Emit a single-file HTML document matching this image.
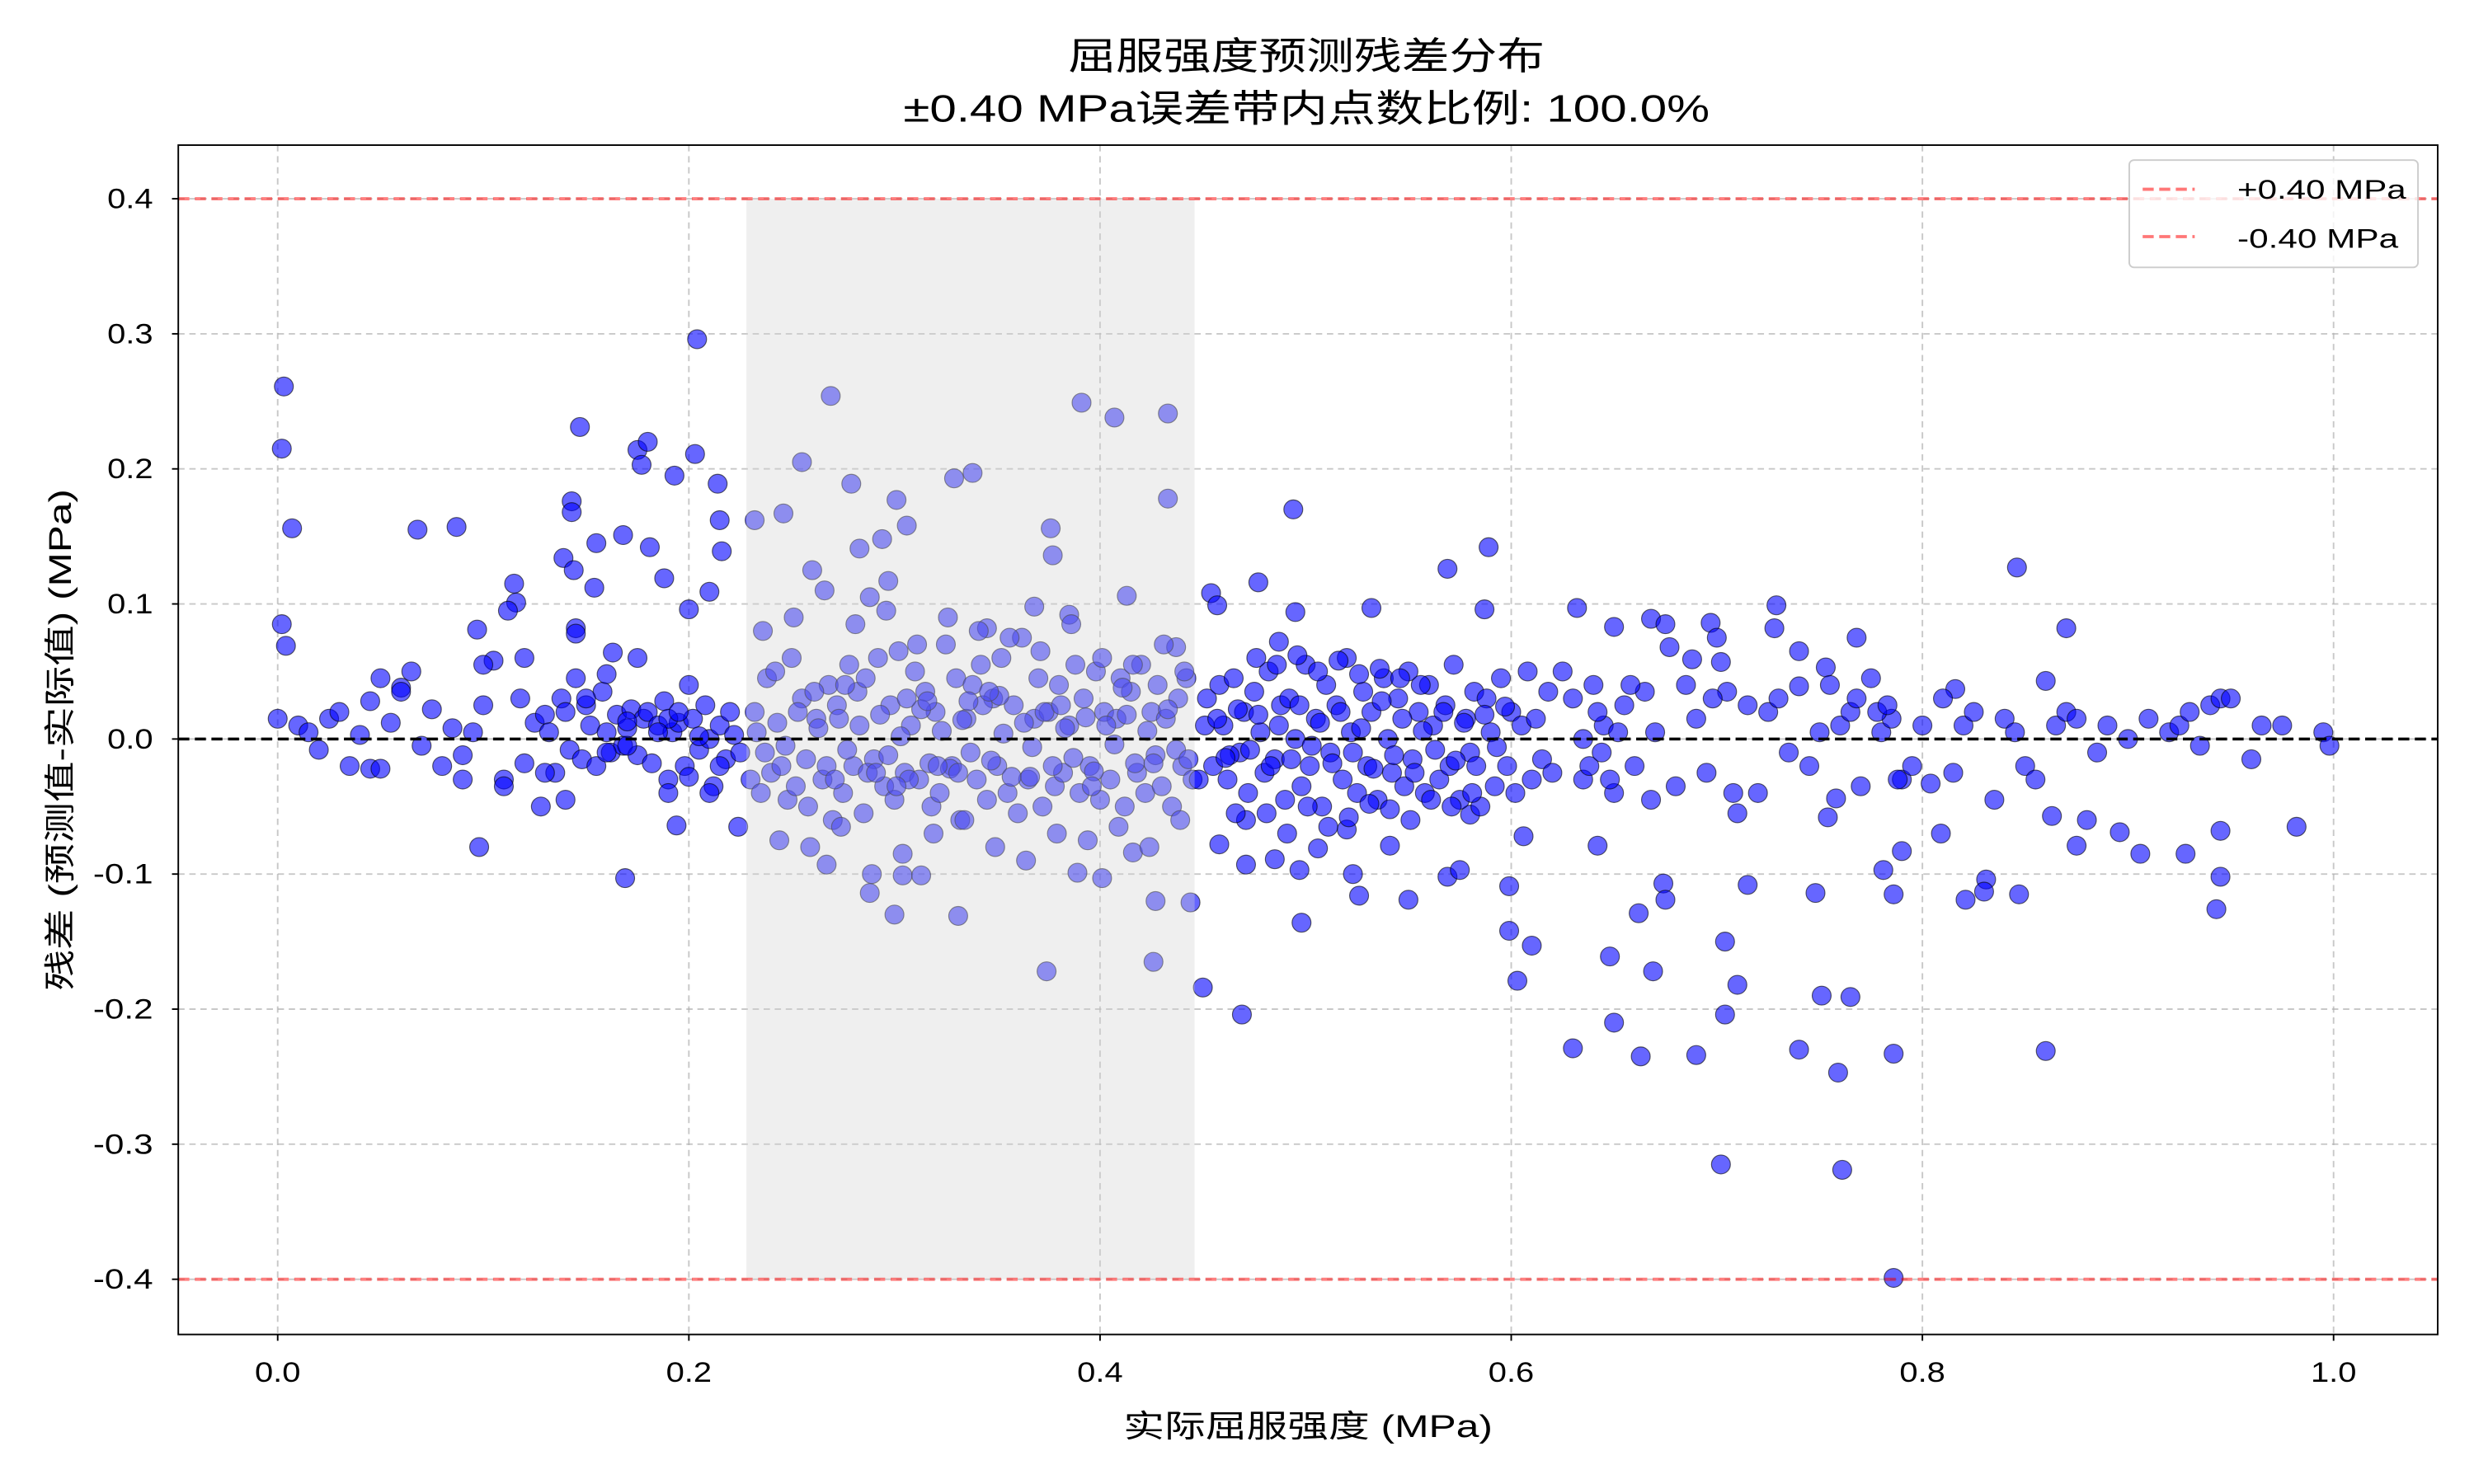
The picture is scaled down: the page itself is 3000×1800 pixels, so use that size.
<!DOCTYPE html>
<html><head><meta charset="utf-8"><style>
html,body{margin:0;padding:0;background:#fff;}
svg{display:block;}
text{font-family:"Liberation Sans","Noto Sans CJK SC",sans-serif;fill:#000;}
</style></head><body>
<svg id="chart" width="3000" height="1800" viewBox="0 0 1568 940.8" preserveAspectRatio="none" xmlns="http://www.w3.org/2000/svg">
<rect x="0" y="0" width="1568" height="941" fill="#fff"/>
<text x="828" y="44" font-size="24" text-anchor="middle" textLength="302" lengthAdjust="spacingAndGlyphs">屈服强度预测残差分布</text>
<text x="828" y="77" font-size="24" text-anchor="middle" textLength="511" lengthAdjust="spacingAndGlyphs">±0.40 MPa误差带内点数比例: 100.0%</text>
<g id="grid"></g>
<g id="marks"></g>
<g id="over"></g>
<rect x="113" y="92" width="1432" height="754" fill="none" stroke="#000" stroke-width="1"/>
<g id="ticks"></g>
<text x="829" y="911" font-size="20" text-anchor="middle" textLength="234" lengthAdjust="spacingAndGlyphs">实际屈服强度 (MPa)</text>
<text transform="translate(45,469) rotate(-90)" font-size="20" text-anchor="middle" textLength="318" lengthAdjust="spacingAndGlyphs">残差 (预测值-实际值) (MPa)</text>
<g>
<rect x="1349.5" y="101.5" width="183" height="68" rx="3" fill="#fff" fill-opacity="0.8" stroke="#ccc" stroke-width="1"/>
<line x1="1358" y1="120" x2="1391" y2="120" stroke="#ff7777" stroke-width="2" stroke-dasharray="7,3.5"/>
<text x="1418" y="126" font-size="17" textLength="107" lengthAdjust="spacingAndGlyphs">+0.40 MPa</text>
<line x1="1358" y1="150" x2="1391" y2="150" stroke="#ff7777" stroke-width="2" stroke-dasharray="7,3.5"/>
<text x="1418" y="157" font-size="17" textLength="102" lengthAdjust="spacingAndGlyphs">-0.40 MPa</text>
</g>
</svg>
<script>
const xTicks=[0,0.2,0.4,0.6,0.8,1.0];
const xTickLabels=["0.0","0.2","0.4","0.6","0.8","1.0"];
const yTicks=[-0.4,-0.3,-0.2,-0.1,0,0.1,0.2,0.3,0.4];
const yTickLabels=["-0.4","-0.3","-0.2","-0.1","0.0","0.1","0.2","0.3","0.4"];
const errorBand=0.40;
const highlightRange=[0.228,0.446];
const xValues=[0.003,0.002,0.007,0.002,0.004,0.0,0.068,0.087,0.147,0.204,0.203,0.175,0.18,0.177,0.193,0.214,0.215,0.216,0.143,0.143,0.168,0.181,0.155,0.139,0.144,0.188,0.154,0.115,0.116,0.097,0.145,0.145,0.163,0.2,0.21,0.246,0.269,0.255,0.232,0.279,0.301,0.306,0.329,0.338,0.391,0.407,0.433,0.433,0.376,0.377,0.294,0.283,0.297,0.413,0.385,0.368,0.345,0.437,0.454,0.457,0.477,0.494,0.495,0.487,0.532,0.589,0.569,0.587,0.632,0.668,0.65,0.677,0.688,0.697,0.702,0.729,0.728,0.768,0.753,0.74,0.846,0.87,0.86,0.816,
0.098,0.169,0.194,0.224,0.267,0.288,0.3,0.304,0.313,0.331,0.374,0.389,0.401,0.416,0.427,0.426,0.444,0.45,0.469,0.458,0.471,0.498,0.497,0.485,0.506,0.52,0.523,0.526,0.541,0.55,0.569,0.575,0.58,0.599,0.599,0.603,0.61,0.606,0.63,0.642,0.648,0.65,0.663,0.662,0.669,0.674,0.675,0.69,0.702,0.704,0.71,0.704,0.715,0.74,0.748,0.751,0.759,0.761,0.765,0.786,0.786,0.781,0.786,0.79,0.821,0.831,0.83,0.847,0.86,0.863,0.875,0.88,0.896,0.906,0.928,0.943,0.945,0.945,0.982,0.809,0.804,0.754,0.758,
0.01,0.015,0.02,0.025,0.03,0.04,0.045,0.05,0.055,0.06,0.07,0.075,0.08,0.085,0.09,0.095,0.1,0.105,0.11,0.112,0.118,0.12,0.125,0.128,0.13,0.132,0.135,0.138,0.14,0.142,0.145,0.148,0.15,0.152,0.155,0.158,0.16,0.162,0.165,0.168,0.17,0.172,0.175,0.178,0.18,0.182,0.185,0.188,0.19,0.192,0.195,0.198,0.2,0.202,0.205,0.208,0.21,0.212,0.215,0.218,0.22,0.222,0.225,0.13,0.15,0.17,0.19,0.21,0.185,0.195,0.205,0.16,0.14,0.12,0.11,0.1,0.09,0.06,0.05,0.035,0.045,0.065,0.16,0.175,0.2,0.215,0.19,0.17,
0.23,0.232,0.235,0.238,0.24,0.242,0.245,0.248,0.25,0.252,0.255,0.258,0.26,0.262,0.265,0.268,0.27,0.272,0.275,0.278,0.28,0.282,0.285,0.288,0.29,0.292,0.295,0.298,0.3,0.302,0.305,0.308,0.31,0.312,0.315,0.318,0.32,0.322,0.325,0.328,0.33,0.332,0.335,0.338,0.34,0.342,0.345,0.348,0.35,0.352,0.355,0.358,0.36,0.362,0.365,0.368,0.37,0.372,0.375,0.378,0.38,0.382,0.385,0.388,0.39,0.392,0.395,0.398,0.4,0.402,0.405,0.408,0.41,0.412,0.415,0.418,0.42,0.422,0.425,0.428,0.43,0.432,0.435,0.438,0.44,0.442,0.445,
0.233,0.237,0.243,0.247,0.253,0.257,0.263,0.267,0.273,0.277,0.283,0.287,0.293,0.297,0.303,0.307,0.313,0.317,0.323,0.327,0.333,0.337,0.343,0.347,0.353,0.357,0.363,0.367,0.373,0.377,0.383,0.387,0.393,0.397,0.403,0.407,0.413,0.417,0.423,0.427,0.433,0.437,0.443,
0.236,0.244,0.251,0.259,0.266,0.274,0.281,0.289,0.296,0.304,0.311,0.319,0.326,0.334,0.341,0.349,0.356,0.364,0.371,0.379,0.386,0.394,0.401,0.409,0.416,0.424,0.431,0.439,0.261,0.276,0.291,0.306,0.321,0.336,0.351,0.366,0.381,0.396,0.411,0.426,0.441,0.271,0.286,0.301,0.316,0.331,0.346,
0.448,0.452,0.455,0.458,0.46,0.462,0.465,0.468,0.47,0.472,0.475,0.478,0.48,0.482,0.485,0.488,0.49,0.492,0.495,0.498,0.5,0.502,0.505,0.508,0.51,0.512,0.515,0.518,0.52,0.522,0.525,0.528,0.53,0.532,0.535,0.538,0.54,0.542,0.545,0.548,0.55,0.552,0.555,0.558,0.56,0.562,0.565,0.568,0.57,0.572,0.575,0.578,0.58,0.582,0.585,0.588,0.59,0.592,0.595,0.598,0.6,0.602,0.605,0.608,0.61,0.612,0.615,0.618,0.62,
0.451,0.457,0.463,0.467,0.473,0.477,0.483,0.487,0.493,0.497,0.503,0.507,0.513,0.517,0.523,0.527,0.533,0.537,0.543,0.547,0.553,0.557,0.563,0.567,0.573,0.577,0.583,0.587,0.593,0.597,0.461,0.471,0.481,0.491,0.501,0.511,0.521,0.531,0.541,0.551,0.561,0.571,0.581,0.466,0.476,0.486,0.496,0.506,0.516,0.526,0.536,0.546,0.556,
0.625,0.63,0.635,0.64,0.645,0.65,0.655,0.66,0.665,0.67,0.675,0.68,0.685,0.69,0.695,0.7,0.705,0.71,0.715,0.72,0.725,0.73,0.735,0.74,0.745,0.75,0.755,0.76,0.765,0.77,0.775,0.78,0.785,0.79,0.795,0.8,0.81,0.815,0.82,0.825,0.835,0.84,0.845,0.85,0.855,0.865,0.87,0.875,0.885,0.89,0.9,0.91,0.92,0.925,0.93,0.935,0.94,0.945,0.95,0.96,0.965,0.975,0.995,0.998,0.638,0.648,0.658,0.668,0.698,0.708,0.778,0.788,0.783,0.768,0.642,0.652,0.644,0.635];
const yValues=[0.261,0.215,0.156,0.085,0.069,0.015,0.155,0.157,0.231,0.296,0.211,0.214,0.22,0.203,0.195,0.189,0.162,0.139,0.176,0.168,0.151,0.142,0.145,0.134,0.125,0.119,0.112,0.115,0.101,0.081,0.082,0.078,0.064,0.096,0.109,0.167,0.254,0.205,0.162,0.189,0.177,0.158,0.193,0.197,0.249,0.238,0.241,0.178,0.156,0.136,0.148,0.141,0.117,0.106,0.092,0.098,0.082,0.068,0.108,0.099,0.116,0.17,0.094,0.072,0.097,0.142,0.126,0.096,0.097,0.089,0.083,0.068,0.059,0.086,0.057,0.099,0.082,0.075,0.053,0.039,0.127,0.082,0.043,0.037,
-0.08,-0.103,-0.064,-0.065,-0.093,-0.114,-0.13,-0.101,-0.101,-0.131,-0.172,-0.099,-0.103,-0.084,-0.12,-0.165,-0.121,-0.184,-0.204,-0.078,-0.093,-0.136,-0.097,-0.089,-0.081,-0.067,-0.1,-0.116,-0.079,-0.119,-0.102,-0.097,-0.056,-0.109,-0.142,-0.179,-0.153,-0.072,-0.229,-0.079,-0.161,-0.21,-0.235,-0.129,-0.172,-0.107,-0.119,-0.234,-0.315,-0.15,-0.182,-0.204,-0.108,-0.23,-0.114,-0.19,-0.247,-0.319,-0.191,-0.233,-0.399,-0.097,-0.115,-0.083,-0.119,-0.104,-0.113,-0.115,-0.231,-0.057,-0.079,-0.06,-0.069,-0.085,-0.085,-0.126,-0.102,-0.068,-0.065,-0.07,-0.033,-0.058,-0.044,
0.01,0.005,-0.008,0.015,0.02,0.003,-0.022,0.045,0.012,0.038,-0.005,0.022,-0.02,0.008,-0.012,0.005,0.025,0.058,-0.03,0.095,0.03,-0.018,0.012,-0.05,0.018,0.005,-0.025,0.03,0.02,-0.008,0.045,-0.015,0.025,0.01,-0.02,0.035,0.005,-0.01,0.018,-0.005,0.008,0.022,-0.012,0.015,0.02,-0.018,0.01,0.028,-0.03,0.005,0.012,-0.02,0.04,0.015,-0.008,0.025,0.0,-0.035,0.01,-0.015,0.02,0.003,-0.01,-0.025,0.03,-0.005,0.015,-0.04,0.005,0.02,0.002,0.048,-0.045,0.06,-0.035,0.055,-0.03,0.035,-0.022,-0.02,0.028,0.05,-0.01,0.06,-0.028,-0.02,-0.04,0.013,
-0.03,0.02,-0.04,0.045,-0.025,0.05,-0.02,-0.045,0.06,-0.035,0.03,-0.05,0.125,0.015,-0.03,0.04,-0.06,0.025,-0.04,0.055,-0.02,0.035,-0.055,0.105,-0.015,0.06,-0.035,0.025,-0.045,0.065,-0.025,0.01,0.05,-0.03,0.035,-0.05,0.02,-0.04,0.07,-0.02,0.045,-0.06,0.015,0.04,-0.03,0.055,-0.045,0.03,-0.02,0.06,-0.04,0.025,-0.055,0.075,-0.03,0.015,0.045,-0.05,0.02,-0.035,0.04,-0.025,0.01,0.055,-0.04,0.03,-0.02,0.05,-0.045,0.02,-0.03,0.015,0.045,-0.05,0.035,-0.025,0.055,-0.04,0.02,0.04,-0.035,0.015,-0.05,0.03,-0.02,0.045,-0.03,
0.005,-0.01,0.012,-0.005,0.02,-0.015,0.008,-0.02,0.015,-0.008,0.01,-0.025,0.018,-0.012,0.002,-0.03,0.022,-0.018,0.006,-0.022,0.014,-0.01,0.025,-0.016,0.004,-0.028,0.012,-0.006,0.02,-0.02,0.008,-0.014,0.016,-0.024,0.01,-0.004,0.018,-0.018,0.006,-0.012,0.022,-0.008,-0.015,
0.08,-0.075,0.09,-0.08,0.11,-0.065,0.085,-0.1,0.095,-0.085,0.07,-0.07,0.09,-0.06,0.08,-0.08,0.075,-0.09,0.065,-0.07,0.085,-0.075,0.06,-0.065,0.055,-0.08,0.07,-0.06,0.035,0.04,-0.025,0.03,-0.02,0.028,0.032,-0.028,0.025,-0.035,0.038,-0.018,0.05,-0.03,0.045,-0.035,0.028,-0.025,0.035,-0.03,
0.03,-0.02,0.04,0.01,-0.03,0.045,-0.01,0.02,-0.04,0.035,0.005,-0.025,0.05,-0.015,0.025,-0.045,0.03,0.0,-0.035,0.055,-0.02,0.015,-0.05,0.04,-0.01,0.025,-0.03,0.06,0.005,-0.04,0.035,-0.02,0.02,-0.045,0.045,0.0,-0.025,0.03,-0.035,0.05,-0.015,0.02,-0.04,0.04,0.01,-0.03,0.025,-0.02,0.055,-0.045,0.015,-0.01,0.035,-0.05,0.03,0.005,-0.035,0.045,-0.02,0.02,-0.04,0.01,0.05,-0.03,0.015,-0.015,0.035,-0.025,0.01,
0.015,-0.012,0.022,-0.008,0.018,-0.02,0.01,-0.015,0.025,-0.005,0.012,-0.018,0.02,-0.01,0.008,-0.022,0.028,-0.012,0.015,-0.025,0.006,-0.008,0.02,-0.016,0.012,-0.02,0.018,-0.006,0.024,-0.014,-0.06,-0.055,-0.07,-0.05,-0.065,-0.058,-0.048,-0.052,-0.06,-0.045,-0.05,-0.04,-0.055,0.06,0.055,0.062,0.05,0.058,0.048,0.052,0.045,0.04,0.05,
0.03,-0.03,0.04,0.01,-0.04,0.025,-0.02,0.035,0.005,0.085,-0.035,0.04,0.015,-0.025,0.075,0.035,-0.055,0.025,-0.04,0.02,0.03,-0.01,0.065,-0.02,0.005,0.04,0.01,0.02,-0.035,0.045,0.005,0.015,-0.03,-0.02,0.01,0.03,-0.025,0.01,0.02,-0.045,0.015,0.005,-0.02,-0.03,0.01,0.02,0.015,-0.01,0.01,0.0,0.015,0.005,0.01,0.02,-0.005,0.025,0.03,0.03,-0.015,0.01,0.01,0.005,-0.005,-0.02,-0.03,0.04,-0.045,0.03,-0.04,0.02,-0.03,0.025,0.03,0.02,0.005,-0.01,0.0,-0.005];
const NS='http://www.w3.org/2000/svg';
const L=113,R=1545,T=92,B=846;
function xs(v){return 176+v*1303;}
function ys(v){return 468.5-v*856.25;}
function mk(tag,attrs,parent){const e=document.createElementNS(NS,tag);for(const k in attrs)e.setAttribute(k,attrs[k]);parent.appendChild(e);return e;}
const grid=document.getElementById('grid'),marks=document.getElementById('marks'),over=document.getElementById('over'),ticks=document.getElementById('ticks');
xTicks.forEach((t,i)=>{
  const g=mk('line',{x1:xs(t),x2:xs(t),y1:T,y2:B,stroke:'#b0b0b0','stroke-opacity':0.7,'stroke-width':1,'stroke-dasharray':'4,3'},grid);
  
  
  const tk=mk('line',{x1:xs(t),x2:xs(t),y1:B,y2:B+4,stroke:'#000','stroke-width':1},ticks);
  
  
  const lb=mk('text',{x:xs(t),y:B+30,'font-size':18,'text-anchor':'middle',textLength:29,lengthAdjust:'spacingAndGlyphs'},ticks);
  lb.textContent=xTickLabels[i];
  
  
});
yTicks.forEach((t,i)=>{
  const g=mk('line',{x1:L,x2:R,y1:ys(t),y2:ys(t),stroke:'#b0b0b0','stroke-opacity':0.7,'stroke-width':1,'stroke-dasharray':'4,3'},grid);
  
  
  const tk=mk('line',{x1:L-4,x2:L,y1:ys(t),y2:ys(t),stroke:'#000','stroke-width':1},ticks);
  
  
  const lab=yTickLabels[i];
  const lb=mk('text',{x:L-16,y:ys(t)+6,'font-size':18,'text-anchor':'end',textLength:lab.startsWith('-')?38:29,lengthAdjust:'spacingAndGlyphs'},ticks);
  lb.textContent=lab;
  
  
});
xValues.forEach((x,i)=>{
  const c=mk('circle',{cx:xs(x),cy:ys(yValues[i]),r:6,fill:'#0000ff','fill-opacity':0.6,stroke:'#000','stroke-opacity':0.6,'stroke-width':0.6},marks);
  
  
});
const band=mk('rect',{x:xs(highlightRange[0]),y:ys(errorBand),width:xs(highlightRange[1])-xs(highlightRange[0]),height:ys(-errorBand)-ys(errorBand),fill:'#d3d3d3','fill-opacity':0.36},over);


const zl=mk('line',{x1:L,x2:R,y1:ys(0),y2:ys(0),stroke:'#000','stroke-width':1.8,'stroke-dasharray':'7,3.5'},over);


[errorBand,-errorBand].forEach(v=>{
  const l=mk('line',{x1:L,x2:R,y1:ys(v),y2:ys(v),stroke:'#ff0000','stroke-opacity':0.5,'stroke-width':2,'stroke-dasharray':'7,3.5'},over);
  
  
});
</script>
</body></html>
